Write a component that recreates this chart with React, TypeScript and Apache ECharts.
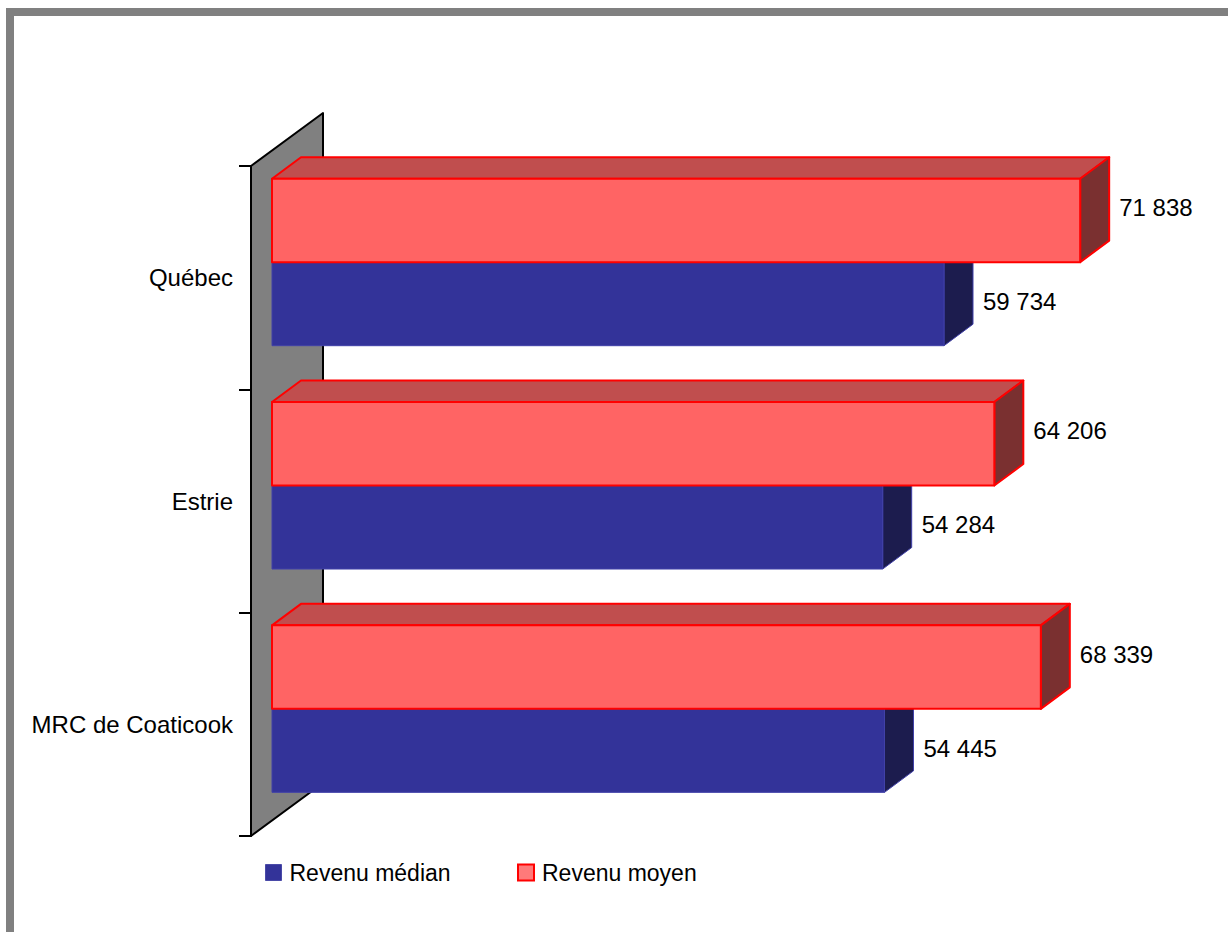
import React, { useEffect, useRef } from "react";
import * as echarts from "echarts";

const categories = ["Québec", "Estrie", "MRC de Coaticook"];
const revenuMedian = [59734, 54284, 54445];
const revenuMoyen = [71838, 64206, 68339];
const seriesNames = ["Revenu médian", "Revenu moyen"];

const FONT = "'Liberation Sans', Arial, sans-serif";
const DF = [21, -15.5]; // bar front face offset from the wall plane
const DB = [50, -37]; // bar back face offset
const WALL = [72, -53]; // wall depth

const fmt = (v: number) => {
  const s = Math.round(v).toString();
  return s.replace(/\B(?=(\d{3})+(?!\d))/g, " ");
};

type Cfg = {
  f0: number;
  f1: number;
  front: string;
  top: string;
  side: string;
  stroke: string;
  lw: number;
  labelDy: number;
};

const makeRender = (cfg: Cfg) => (params: any, api: any) => {
  const v = api.value(0);
  const c = api.value(1);
  const z = api.coord([0, c]);
  const e = api.coord([v, c]);
  const band = api.size([0, 1])[1];
  const top = z[1] - band / 2;
  const t = top + cfg.f0 * band;
  const b = top + cfg.f1 * band;
  const x0 = z[0];
  const x1 = e[0];
  const strokeStyle = { stroke: cfg.stroke, lineWidth: cfg.lw, lineJoin: "round" };
  return {
    type: "group",
    children: [
      {
        type: "polygon",
        shape: {
          points: [
            [x0 + DF[0], t + DF[1]],
            [x1 + DF[0], t + DF[1]],
            [x1 + DB[0], t + DB[1]],
            [x0 + DB[0], t + DB[1]],
          ],
        },
        style: { fill: cfg.top, ...strokeStyle },
      },
      {
        type: "polygon",
        shape: {
          points: [
            [x1 + DF[0], t + DF[1]],
            [x1 + DB[0], t + DB[1]],
            [x1 + DB[0], b + DB[1]],
            [x1 + DF[0], b + DF[1]],
          ],
        },
        style: { fill: cfg.side, ...strokeStyle },
      },
      {
        type: "rect",
        shape: { x: x0 + DF[0], y: t + DF[1], width: x1 - x0, height: b - t },
        style: { fill: cfg.front, ...strokeStyle },
      },
      {
        type: "text",
        x: x1 + DB[0] + 10,
        y: (t + b) / 2 + DF[1] + cfg.labelDy,
        style: {
          text: fmt(v),
          fill: "#000",
          fontSize: 24,
          fontFamily: FONT,
          verticalAlign: "middle",
          align: "left",
        },
      },
    ],
  };
};

const medianCfg: Cfg = {
  f0: 0.5,
  f1: 0.874,
  front: "#333399",
  top: "#26267a",
  side: "#1c1c4e",
  stroke: "#4141a8",
  lw: 1,
  labelDy: -2.5,
};
const moyenCfg: Cfg = {
  f0: 0.1263,
  f1: 0.5,
  front: "#ff6464",
  top: "#c04e4e",
  side: "#7a3030",
  stroke: "#ff0000",
  lw: 2,
  labelDy: -13,
};

const legendText = { color: "#000", fontSize: 23, fontFamily: FONT, padding: [0, 0, 0, 3] };

export default function App() {
  const ref = useRef<HTMLDivElement>(null);
  useEffect(() => {
    if (!ref.current) return;
    const chart = echarts.init(ref.current, undefined, { renderer: "svg" });
    const option: any = {
      animation: false,
      backgroundColor: "#ffffff",
      graphic: [
        {
          type: "rect",
          z: 0,
          shape: { x: 10, y: 12, width: 1400, height: 1100 },
          style: { fill: "none", stroke: "#808080", lineWidth: 8 },
          silent: true,
        },
      ],
      grid: { left: 251, top: 166, width: 900, height: 670, containLabel: false },
      xAxis: {
        type: "value",
        min: 0,
        max: 80000,
        show: false,
      },
      yAxis: {
        type: "category",
        data: categories,
        inverse: true,
        axisLine: { show: true, lineStyle: { color: "#000", width: 2 } },
        axisTick: { show: true, length: 12, lineStyle: { color: "#000", width: 2 } },
        axisLabel: { color: "#000", fontSize: 24, fontFamily: FONT, margin: 18 },
        splitLine: { show: false },
      },
      legend: [
        {
          data: [
            {
              name: seriesNames[0],
              icon: "rect",
              itemStyle: { color: "#333399", borderColor: "#4a4aa8", borderWidth: 1 },
            },
          ],
          left: 265,
          top: 861,
          padding: 0,
          itemWidth: 16,
          itemHeight: 16,
          textStyle: legendText,
          selectedMode: false,
        },
        {
          data: [
            {
              name: seriesNames[1],
              icon: "rect",
              itemStyle: { color: "#ff7a7a", borderColor: "#ff0000", borderWidth: 2 },
            },
          ],
          left: 517,
          top: 861,
          padding: 0,
          itemWidth: 16,
          itemHeight: 16,
          textStyle: legendText,
          selectedMode: false,
        },
      ],
      series: [
        {
          type: "custom",
          name: "wall",
          silent: true,
          z: 1,
          data: [[0, 0]],
          encode: { x: 0, y: 1 },
          renderItem: (params: any) => {
            const cs = params.coordSys;
            return {
              type: "polygon",
              shape: {
                points: [
                  [cs.x, cs.y],
                  [cs.x + WALL[0], cs.y + WALL[1]],
                  [cs.x + WALL[0], cs.y + cs.height + WALL[1]],
                  [cs.x, cs.y + cs.height],
                ],
              },
              style: { fill: "#808080", stroke: "#000", lineWidth: 2, lineJoin: "round" },
            };
          },
        },
        {
          type: "custom",
          name: seriesNames[0],
          z: 2,
          itemStyle: { color: "#333399" },
          encode: { x: 0, y: 1 },
          data: revenuMedian.map((v, i) => [v, i]),
          renderItem: makeRender(medianCfg),
        },
        {
          type: "custom",
          name: seriesNames[1],
          z: 2,
          itemStyle: { color: "#ff7a7a" },
          encode: { x: 0, y: 1 },
          data: revenuMoyen.map((v, i) => [v, i]),
          renderItem: makeRender(moyenCfg),
        },
      ],
    };
    chart.setOption(option);
    return () => chart.dispose();
  }, []);
  return (
    <div
      ref={ref}
      style={{ position: "fixed", left: 0, top: 0, width: 1228, height: 932 }}
    />
  );
}
